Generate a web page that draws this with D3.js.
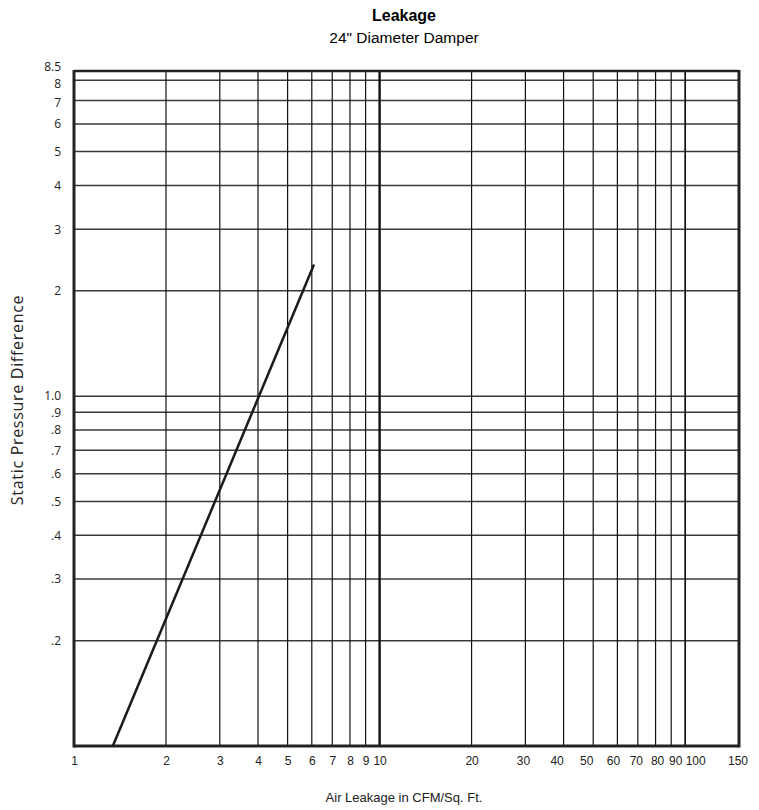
<!DOCTYPE html>
<html>
<head>
<meta charset="utf-8">
<script src="https://cdn.jsdelivr.net/npm/d3@7"></script>
<style>
  body { margin: 0; background: #fff; }
  svg { display: block; }
</style>
</head>
<body>
<div id="chart"></div>
<script>
// leakage curve (CFM/sq.ft vs static pressure)
var leakX = [1.34, 6.1];
var leakY = [0.1, 2.38];

var xTicks = [1, 2, 3, 4, 5, 6, 7, 8, 9, 10, 20, 30, 40, 50, 60, 70, 80, 90, 100, 150];
var xTickLabels = ["1", "2", "3", "4", "5", "6", "7", "8", "9", "10", "20", "30", "40", "50", "60", "70", "80", "90", "100", "150"];
var yTicks = [0.2, 0.3, 0.4, 0.5, 0.6, 0.7, 0.8, 0.9, 1, 2, 3, 4, 5, 6, 7, 8, 8.5];
var yTickLabels = [".2", ".3", ".4", ".5", ".6", ".7", ".8", ".9", "1.0", "2", "3", "4", "5", "6", "7", "8", "8.5"];

// label nudges (px) so crowded labels sit like the printed chart
var xLabelNudge = {30: -2.5, 40: -7, 50: -7, 60: -4.5, 70: -2, 80: 1.5, 90: 4, 100: 10, 150: -1.5};
var yLabelDy = {8.5: "-0.05em", 8: "0.62em", 7: "0.5em"};

var W = 759, H = 810;
var margin = {top: 71, right: 20, bottom: 64, left: 74};
var width = W - margin.left - margin.right,
    height = H - margin.top - margin.bottom;

var svg = d3.select("#chart").append("svg")
  .attr("width", W)
  .attr("height", H);

var g = svg.append("g")
  .attr("transform", "translate(" + margin.left + "," + margin.top + ")");

var x = d3.scaleLog().domain([1, 150]).range([0, width]);
var y = d3.scaleLog().domain([0.1, 8.5]).range([height, 0]);

// horizontal grid
g.append("g").attr("class", "hgrid")
  .selectAll("line")
  .data(yTicks.filter(function(d) { return d < 8.5; }))
  .enter().append("line")
  .attr("x1", 0).attr("x2", width)
  .attr("y1", function(d) { return y(d); })
  .attr("y2", function(d) { return y(d); })
  .attr("stroke", "#3a3a3a")
  .attr("stroke-width", 1.5);

// vertical grid
g.append("g").attr("class", "vgrid")
  .selectAll("line")
  .data(xTicks.filter(function(d) { return d > 1 && d < 150; }))
  .enter().append("line")
  .attr("x1", function(d) { return x(d); })
  .attr("x2", function(d) { return x(d); })
  .attr("y1", 0).attr("y2", height)
  .attr("stroke", "#111")
  .attr("stroke-width", function(d) { return d === 10 ? 2.4 : (d === 100 ? 1.7 : 1.2); });

// frame
g.append("line").attr("x1", 0).attr("x2", width).attr("y1", 0).attr("y2", 0)
  .attr("stroke", "#222").attr("stroke-width", 2.5);
g.append("line").attr("x1", 0).attr("x2", width).attr("y1", height).attr("y2", height)
  .attr("stroke", "#222").attr("stroke-width", 3);
g.append("line").attr("x1", 0).attr("x2", 0).attr("y1", -1).attr("y2", height + 1.5)
  .attr("stroke", "#222").attr("stroke-width", 3);
g.append("line").attr("x1", width).attr("x2", width).attr("y1", -1).attr("y2", height + 1.5)
  .attr("stroke", "#222").attr("stroke-width", 3);

// leakage line
var pts = leakX.map(function(d, i) { return [d, leakY[i]]; });
g.append("path")
  .datum(pts)
  .attr("fill", "none")
  .attr("stroke", "#1a1a1a")
  .attr("stroke-width", 2.5)
  .attr("d", d3.line().x(function(d) { return x(d[0]); }).y(function(d) { return y(d[1]); }));

// axes (labels only)
var xAxis = g.append("g")
  .attr("transform", "translate(0," + height + ")")
  .call(d3.axisBottom(x).tickValues(xTicks).tickSize(0).tickPadding(10)
    .tickFormat(function(d, i) { return xTickLabels[i]; }));
xAxis.select(".domain").remove();
xAxis.selectAll("text")
  .attr("fill", "#222")
  .attr("dx", function(d) { return xLabelNudge[d] || 0; })
  .style("font", "12px 'Liberation Sans', Arial, sans-serif");

var yAxis = g.append("g")
  .call(d3.axisLeft(y).tickValues(yTicks).tickSize(0).tickPadding(13)
    .tickFormat(function(d, i) { return yTickLabels[i]; }));
yAxis.select(".domain").remove();
yAxis.selectAll("text")
  .attr("fill", "#222")
  .attr("dy", function(d) { return yLabelDy[d] || "0.32em"; })
  .style("font", "12px 'Open Sans', 'Noto Sans', sans-serif");

// titles
svg.append("text")
  .attr("x", 404).attr("y", 21)
  .attr("text-anchor", "middle")
  .style("font", "bold 16px 'Liberation Sans', Arial, sans-serif")
  .text("Leakage");
svg.append("text")
  .attr("x", 404).attr("y", 43)
  .attr("text-anchor", "middle")
  .style("font", "15.5px 'Liberation Sans', Arial, sans-serif")
  .text("24\" Diameter Damper");

svg.append("text")
  .attr("x", 404).attr("y", 802)
  .attr("text-anchor", "middle")
  .attr("fill", "#222")
  .style("font", "13px 'Liberation Sans', Arial, sans-serif")
  .text("Air Leakage in CFM/Sq. Ft.");

svg.append("text")
  .attr("transform", "translate(23,400) rotate(-90)")
  .attr("text-anchor", "middle")
  .attr("fill", "#222")
  .style("font", "16px 'Open Sans', 'Noto Sans', sans-serif")
  .style("letter-spacing", "0.7px")
  .text("Static Pressure Difference");
</script>
</body>
</html>
